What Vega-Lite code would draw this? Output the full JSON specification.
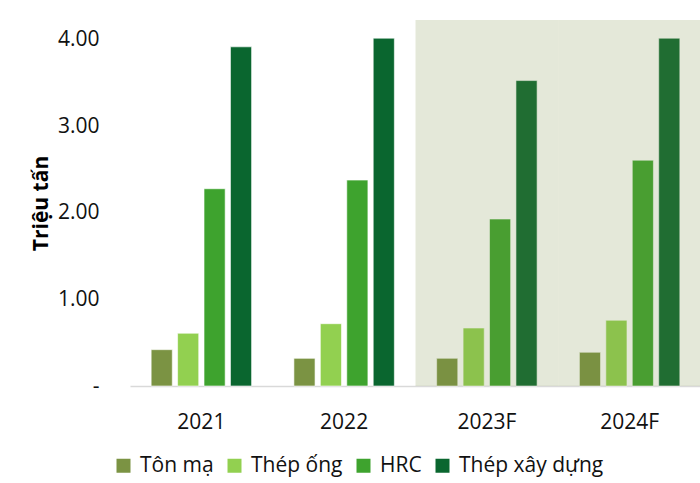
{
  "$schema": "https://vega.github.io/schema/vega-lite/v6.json",
  "width": 571,
  "height": 366,
  "padding": {"left": 30, "top": 20, "right": 0, "bottom": 5},
  "config": {
    "font": "Open Sans",
    "view": {"stroke": null},
    "axis": {"grid": false, "ticks": false, "labelColor": "#111111", "labelFontSize": 21, "titleColor": "#000000"}
  },
  "datasets": {
    "bars": [
      {"year": "2021", "series": "Tôn mạ", "value": 0.42},
      {"year": "2021", "series": "Thép ống", "value": 0.61},
      {"year": "2021", "series": "HRC", "value": 2.28},
      {"year": "2021", "series": "Thép xây dựng", "value": 3.92},
      {"year": "2022", "series": "Tôn mạ", "value": 0.32},
      {"year": "2022", "series": "Thép ống", "value": 0.72},
      {"year": "2022", "series": "HRC", "value": 2.38},
      {"year": "2022", "series": "Thép xây dựng", "value": 4.02},
      {"year": "2023F", "series": "Tôn mạ", "value": 0.32},
      {"year": "2023F", "series": "Thép ống", "value": 0.67},
      {"year": "2023F", "series": "HRC", "value": 1.93},
      {"year": "2023F", "series": "Thép xây dựng", "value": 3.53},
      {"year": "2024F", "series": "Tôn mạ", "value": 0.39},
      {"year": "2024F", "series": "Thép ống", "value": 0.76},
      {"year": "2024F", "series": "HRC", "value": 2.61},
      {"year": "2024F", "series": "Thép xây dựng", "value": 4.02}
    ],
    "shade": [
      {"year": "2023F", "top": 4.23},
      {"year": "2024F", "top": 4.23}
    ]
  },
  "layer": [
    {
      "data": {"name": "bars"},
      "mark": {"type": "bar", "stroke": "#ffffff", "strokeWidth": 1, "strokeOpacity": 0.6},
      "encoding": {
        "x": {
          "field": "year", "type": "nominal",
          "sort": ["2021", "2022", "2023F", "2024F"],
          "scale": {"paddingInner": 0, "paddingOuter": 0},
          "axis": {"title": null, "labelAngle": 0, "labelPadding": 25, "domainColor": "#d9d9d9", "domainWidth": 1.5}
        },
        "xOffset": {
          "field": "series", "type": "nominal",
          "sort": ["Tôn mạ", "Thép ống", "HRC", "Thép xây dựng"],
          "scale": {"paddingInner": 0.2, "paddingOuter": 0.8}
        },
        "y": {
          "field": "value", "type": "quantitative",
          "scale": {"domain": [0, 4.23], "nice": false, "zero": true},
          "axis": {
            "title": "Triệu tấn", "titleFontSize": 21, "titleFontWeight": "bold", "titlePadding": 6,
            "domain": false, "values": [0, 1, 2, 3, 4], "labelPadding": 31,
            "labelExpr": "datum.value == 0 ? '-\u00a0\u00a0\u00a0' : format(datum.value, '.2f')"
          }
        },
        "color": {
          "field": "series", "type": "nominal",
          "scale": {
            "domain": ["Tôn mạ", "Thép ống", "HRC", "Thép xây dựng"],
            "range": ["#7b9343", "#92d050", "#3ea32e", "#0a662f"]
          },
          "legend": {
            "title": null, "orient": "none", "legendX": -17, "legendY": 435, "direction": "horizontal",
            "symbolType": "square", "symbolSize": 196, "symbolStrokeWidth": 0,
            "labelFontSize": 21, "labelColor": "#111111", "labelOffset": 6,
            "columnPadding": 10
          }
        }
      }
    },
    {
      "data": {"name": "shade"},
      "mark": {"type": "bar", "color": "#7a8e40", "opacity": 0.2},
      "encoding": {
        "x": {"field": "year", "type": "nominal", "sort": ["2021", "2022", "2023F", "2024F"]},
        "y": {"field": "top", "type": "quantitative"}
      }
    }
  ]
}
